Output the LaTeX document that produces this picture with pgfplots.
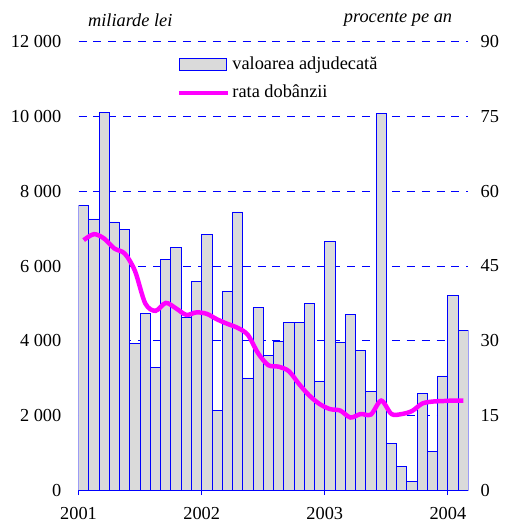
\documentclass[border=0pt]{standalone}
\usepackage{fontspec}
\setmainfont{Liberation Serif}
\usepackage{pgfplots}
\pgfplotsset{compat=1.18}
\definecolor{mag}{RGB}{255,0,255}
\definecolor{barfill}{RGB}{218,218,218}
\begin{document}
\fontsize{18.5}{22}\selectfont
\begin{tikzpicture}
\pgfplotsset{
  every axis/.style={
    scale only axis, width=392bp, height=451bp,
    xmin=0, xmax=38,
    scaled y ticks=false,
    /pgf/number format/assume math mode=true,
    /pgf/number format/1000 sep={\ },
    tick label style={font=\fontsize{18.5}{22}\selectfont},
  },
  barleg/.style={legend image code/.code={\draw[##1] (0bp,-6bp) rectangle (47bp,6bp);}},
  lineleg/.style={legend image code/.code={\draw[##1] (0bp,0bp) -- (49bp,0bp);}},
}
\begin{axis}[
  name=ax,
  ymin=0, ymax=12000, ytick={0,2000,...,12000},
  axis x line*=bottom, axis y line*=left,
  y axis line style={draw=none}, ytick style={draw=none},
  x axis line style={blue, line width=1pt, -},
  xtick={0,12,24,36}, xticklabels={2001,2002,2003,2004},
  xtick style={blue, line width=1pt}, tick align=outside,
  major tick length=5bp,
  ymajorgrids, major grid style={blue, line width=0.8pt, dash pattern=on 8bp off 7bp},
  yticklabel style={xshift=-6bp},
  xticklabel style={yshift=-6bp},
  legend style={draw=none, fill=none, at={(rel axis cs:0.245,0.976)}, anchor=north west,
    font=\fontsize{18.5}{22}\selectfont, row sep=9bp,
    /tikz/every even column/.append style={column sep=2bp}},
  legend cell align=left,
]
\addplot[ybar, bar width=1, bar shift=0, draw=blue, fill=barfill, line width=0.8pt, forget plot]
coordinates {
(0.5,7630) (1.5,7260) (2.5,10106) (3.5,7180) (4.5,6968) (5.5,3936)
(6.5,4734) (7.5,3298) (8.5,6170) (9.5,6489) (10.5,4628) (11.5,5585)
(12.5,6835) (13.5,2128) (14.5,5319) (15.5,7447) (16.5,3005) (17.5,4894)
(18.5,3617) (19.5,3989) (20.5,4495) (21.5,4495) (22.5,5000) (23.5,2926)
(24.5,6649) (25.5,3963) (26.5,4707) (27.5,3750) (28.5,2633) (29.5,10080)
(30.5,1250) (31.5,638) (32.5,240) (33.5,2580) (34.5,1037) (35.5,3059)
(36.5,5213) (37.5,4282)
};
\addlegendimage{draw=blue, fill=barfill, line width=0.8pt, barleg}
\addlegendentry{valoarea adjudecată}
\addlegendimage{mag, line width=4.5bp, lineleg}
\addlegendentry{rata dobânzii}
\end{axis}
\begin{axis}[
  ymin=0, ymax=90, ytick={0,15,...,90},
  axis x line=none, axis y line*=right,
  y axis line style={draw=none}, ytick style={draw=none},
  yticklabel style={xshift=6bp},
]
\addplot[mag, line width=4.5bp, smooth, tension=0.5] coordinates {
(0.5,50.2) (1.5,51.4) (2.5,50.5) (3.5,48.5) (4.5,47.5) (5.5,44.0)
(6.5,37.5) (7.5,36.0) (8.5,37.6) (9.5,36.5) (10.5,35.2) (11.5,35.7)
(12.5,35.4) (13.5,34.3) (14.5,33.4) (15.5,32.6) (16.5,31.2) (17.5,27.5)
(18.5,25.1) (19.5,24.8) (20.5,23.9) (21.5,21.3) (22.5,19.0) (23.5,17.3)
(24.5,16.3) (25.5,16.0) (26.5,14.6) (27.5,15.3) (28.5,15.2) (29.5,18.0)
(30.5,15.3) (31.5,15.3) (32.5,15.9) (33.5,17.4) (34.5,17.8) (35.5,17.9)
(36.5,18.0) (37.5,18.0)
};
\end{axis}
\node[anchor=south, font=\itshape] at ([shift={(52bp,9bp)}]ax.north west) {miliarde lei};
\node[anchor=south east, font=\itshape] at ([shift={(-10bp,9bp)}]ax.north east) {procente pe an};
\path ([shift={(-79bp,-33bp)}]ax.south west) rectangle ([shift={(426bp,493bp)}]ax.south west);
\end{tikzpicture}
\end{document}
